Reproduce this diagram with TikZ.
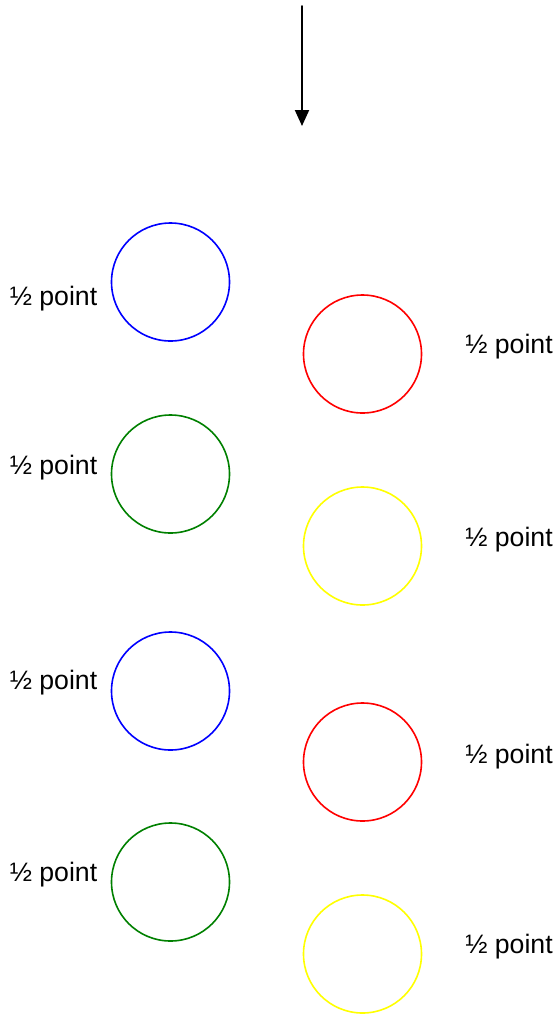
\documentclass[tikz,border=0pt]{standalone}
\usepackage{fontspec}
\setmainfont{Liberation Sans}
\usetikzlibrary{arrows.meta,positioning}
\definecolor{ringblue}{RGB}{0,0,255}
\definecolor{ringgreen}{RGB}{0,128,0}
\definecolor{ringred}{RGB}{255,0,0}
\definecolor{ringyellow}{RGB}{255,255,0}
\tikzset{
  every node/.style={font=\fontsize{20}{24}\selectfont},
  ring/.style={circle, draw, line width=1.2pt, inner sep=0pt,
    minimum size=88.5pt},
  blue ring/.style={ring, draw=ringblue},
  green ring/.style={ring, draw=ringgreen},
  red ring/.style={ring, draw=ringred},
  yellow ring/.style={ring, draw=ringyellow},
  score/.style={inner sep=0pt, anchor=center},
  drop arrow/.style={line width=1.5pt, -{Triangle[length=12pt, width=10.5pt]}}
}

\begin{document}
\begin{tikzpicture}[x=0.75pt, y=-0.75pt, line cap=round, line join=round]
  \useasboundingbox (0,0) rectangle (557,1015);

  % arrow at the top
  \coordinate (arrow top) at (302,6);
  \coordinate (arrow tip) at (302,126);
  \draw[drop arrow] (arrow top) -- (arrow tip);

  % left column
  \foreach \i/\col/\cy/\ty in {1/blue/282/299, 2/green/474/468,
                               3/blue/691/683, 4/green/882/875} {
    \node[\col\space ring] (left\i) at (170.5,\cy) {};
    \node[score] (left label\i) at (53.5,\ty) {½ point};
  }

  % right column
  \foreach \i/\col/\cy/\ty in {1/red/354/347, 2/yellow/546/540,
                               3/red/762/757, 4/yellow/954/947} {
    \node[\col\space ring] (right\i) at (362.5,\cy) {};
    \node[score] (right label\i) at (509,\ty) {½ point};
  }
\end{tikzpicture}
\end{document}
